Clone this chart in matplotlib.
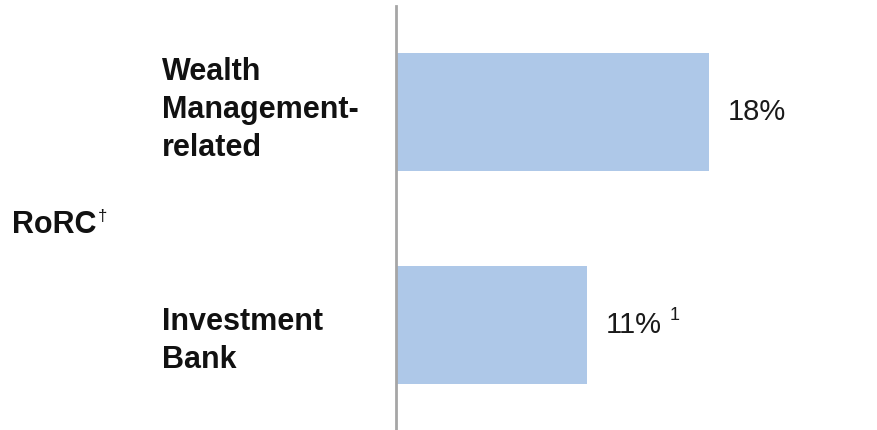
import matplotlib.pyplot as plt

# RoRC by business
categorias = ["Wealth\nManagement-\nrelated", "Investment\nBank"]
valores = [18, 11]
rotulos = ["18%", "11%"]
notas = ["", "1"]

azul = "#aec8e8"
cinza = "#a6a6a6"
fonte = "Liberation Sans"
W, H = 878, 430

fig = plt.figure(figsize=(W / 100, H / 100), dpi=100)
ax = fig.add_axes([396 / W, 0, 482 / W, 424 / H])

pos = list(range(len(valores)))
bars = ax.barh(pos, valores, height=0.554, color=azul, edgecolor="none")

ax.set_xlim(0, 27.7)
ax.set_ylim(1.493, -0.498)

for s in ["top", "right", "bottom"]:
    ax.spines[s].set_visible(False)
ax.spines["left"].set_color(cinza)
ax.spines["left"].set_linewidth(2)
ax.set_xticks([])
ax.set_yticks([])

# valores na ponta das barras
labels = ax.bar_label(bars, labels=rotulos, padding=13, fontsize=21,
                      family=fonte, color="#1a1a1a")
for lab, nota in zip(labels, notas):
    if nota:
        ax.annotate(nota, xy=(1, 1), xycoords=lab, xytext=(6, 3),
                    textcoords="offset points", ha="left", va="top",
                    fontsize=13, family=fonte, color="#1a1a1a")

# nomes das categorias, alinhados a esquerda (baseline da ultima linha)
base_y = [156, 368]
for cat, y in zip(categorias, base_y):
    fig.text(162 / W, 1 - y / H, cat, ha="left", va="baseline",
             fontsize=22, fontweight="bold", family=fonte,
             linespacing=1.34, color="#111111")

t = fig.text(12 / W, 1 - 233 / H, "RoRC", ha="left", va="baseline",
             fontsize=22, fontweight="bold", family=fonte, color="#111111")
ax.annotate("\u2020", xy=(1, 1), xycoords=t, xytext=(1, 1),
            textcoords="offset points", ha="left", va="top",
            fontsize=12, family=fonte, color="#111111")

fig.savefig("out.png", dpi=100)
